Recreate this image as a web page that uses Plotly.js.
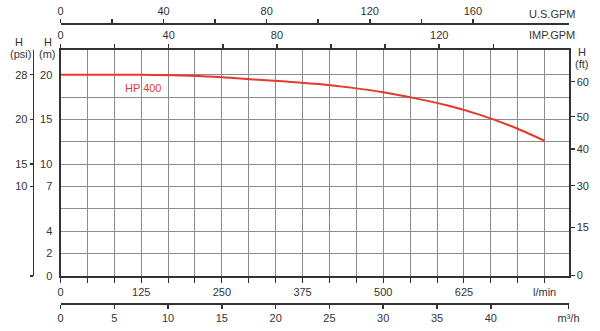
<!DOCTYPE html>
<html>
<head>
<meta charset="utf-8">
<script src="https://cdn.plot.ly/plotly-3.0.1.min.js"></script>
<style>html,body{margin:0;padding:0;background:#fff;}#chart{width:600px;height:331px;}</style>
</head>
<body>
<div id="chart"></div>
<script>
// ---- data ----
const flowLmin = [0, 100, 150, 200, 250, 300, 350, 400, 450, 500, 550, 600, 650, 700, 750];
const headM    = [20.0, 20.0, 19.97, 19.88, 19.72, 19.47, 19.23, 18.95, 18.55, 18.03, 17.35, 16.55, 15.5, 14.2, 12.6];
const seriesName = 'HP 400';

// bottom l/min axis: gridlines every 125/3 l/min, labels every 125
const lminGrid = Array.from({length: 19}, (_, i) => i * 125 / 3);
const lminText = ['0','','','125','','','250','','','375','','','500','','','625','','','l/min'];

// head (m) axis: printed labels sit on evenly spaced gridlines
const mTickVals = [-2.5, 0, 2.5, 5, 7.5, 10, 12.5, 15, 17.5, 20];
const mTickText = ['0', '2', '4', '', '7', '10', '', '15', '', '20'];

// psi axis labels (aligned with m gridlines)
const psiTickVals = [20, 15, 10, 7.5, -2.5];
const psiTickText = ['28', '20', '15', '10', ''];

// ft axis labels and their printed positions on the head scale
const ftTickVals = [-2.45, 2.94, 7.59, 11.69, 15.3, 19.21];
const ftTickText = ['0', '15', '30', '40', '50', '60'];

// m3/h axis
const m3hTickVals = [0, 5, 10, 15, 20, 25, 30, 35, 40, 47.22];
const m3hTickText = ['0', '5', '10', '15', '20', '25', '30', '35', '40', 'm³/h'];

// U.S. GPM axis
const usTickVals = [0, 20, 40, 60, 80, 100, 120, 140, 160];
const usTickText = ['0', '', '40', '', '80', '', '120', '', '160'];

// IMP. GPM axis (labels as printed)
const impTickVals = [0, 20, 40, 60, 80, 100, 120, 140, 160];
const impTickText = ['0', '', '40', '', '80', '', '', '120', ''];

// ---- layout ----
const W = 600, H = 331;
const plotL = 60.5, plotR = 568.5, plotT = 49.5, plotB = 276;
const dark = '#333333';
const gridC = '#8c8c8c';
const red = '#e6392b';
const font = {family: '"Liberation Sans", Arial, sans-serif', size: 11, color: dark};

const xDom = [plotL / W, plotR / W];
const yDom = [(H - plotB) / H, (H - plotT) / H];
const xRange = [0, 787];
const yRange = [-2.5, 22.81];

const traces = [
  {x: flowLmin, y: headM, type: 'scatter', mode: 'lines', name: seriesName,
   line: {color: red, width: 2, shape: 'spline', smoothing: 0.8}, xaxis: 'x', yaxis: 'y', hoverinfo: 'skip'},
  {x: [], y: [], type: 'scatter', mode: 'lines', xaxis: 'x', yaxis: 'y2', hoverinfo: 'skip'},
  {x: [], y: [], type: 'scatter', mode: 'lines', xaxis: 'x', yaxis: 'y3', hoverinfo: 'skip'},
  {x: [], y: [], type: 'scatter', mode: 'lines', xaxis: 'x2', yaxis: 'y', hoverinfo: 'skip'},
  {x: [], y: [], type: 'scatter', mode: 'lines', xaxis: 'x3', yaxis: 'y', hoverinfo: 'skip'},
  {x: [], y: [], type: 'scatter', mode: 'lines', xaxis: 'x4', yaxis: 'y', hoverinfo: 'skip'}
];

const layout = {
  width: W, height: H,
  margin: {l: 0, r: 0, t: 0, b: 0},
  paper_bgcolor: '#ffffff', plot_bgcolor: '#ffffff',
  showlegend: false,
  font: font,
  xaxis: {
    domain: xDom, range: xRange, anchor: 'y',
    tickmode: 'array', tickvals: lminGrid, ticktext: lminText,
    ticks: 'outside', ticklen: 5, tickwidth: 1, tickcolor: dark,
    showline: true, linecolor: dark, linewidth: 2,
    showgrid: true, gridcolor: gridC, gridwidth: 1, zeroline: false,
    tickfont: font
  },
  xaxis2: {
    overlaying: 'x', anchor: 'free', position: (H - 303.5) / H, side: 'bottom',
    domain: xDom, range: [0, 47.22],
    tickmode: 'array', tickvals: m3hTickVals, ticktext: m3hTickText,
    ticks: 'outside', ticklen: 4, tickwidth: 1.5, tickcolor: dark,
    showline: true, linecolor: dark, linewidth: 2,
    showgrid: false, zeroline: false, tickfont: font
  },
  xaxis3: {
    overlaying: 'x', anchor: 'free', position: (H - 24) / H, side: 'top',
    domain: xDom, range: [0, 197.1],
    tickmode: 'array', tickvals: usTickVals, ticktext: usTickText,
    ticks: 'outside', ticklen: 4, tickwidth: 1.5, tickcolor: dark,
    showline: true, linecolor: dark, linewidth: 2,
    showgrid: false, zeroline: false, tickfont: font
  },
  xaxis4: {
    overlaying: 'x', anchor: 'y', side: 'top',
    domain: xDom, range: [0, 187.8],
    tickmode: 'array', tickvals: impTickVals, ticktext: impTickText,
    ticks: 'outside', ticklen: 4, tickwidth: 1.5, tickcolor: dark,
    showline: true, linecolor: dark, linewidth: 2,
    showgrid: false, zeroline: false, tickfont: font
  },
  yaxis: {
    domain: yDom, range: yRange, anchor: 'x',
    tickmode: 'array', tickvals: mTickVals, ticktext: mTickText,
    ticks: 'outside', ticklen: 4, tickcolor: 'rgba(0,0,0,0)',
    showline: true, linecolor: dark, linewidth: 2,
    showgrid: true, gridcolor: gridC, gridwidth: 1, zeroline: false,
    tickfont: font
  },
  yaxis2: {
    overlaying: 'y', anchor: 'free', position: 32.7 / W, side: 'left',
    domain: yDom, range: yRange,
    tickmode: 'array', tickvals: psiTickVals, ticktext: psiTickText,
    ticks: 'outside', ticklen: 3, tickwidth: 1.5, tickcolor: dark,
    showline: true, linecolor: dark, linewidth: 1.5,
    showgrid: false, zeroline: false, tickfont: font
  },
  yaxis3: {
    overlaying: 'y', anchor: 'x', side: 'right',
    domain: yDom, range: yRange,
    tickmode: 'array', tickvals: ftTickVals, ticktext: ftTickText,
    ticks: 'outside', ticklen: 4, tickwidth: 1.5, tickcolor: dark,
    showline: true, linecolor: dark, linewidth: 2,
    showgrid: false, zeroline: false, tickfont: font
  },
  annotations: [
    {text: 'H', xref: 'paper', yref: 'paper', x: 19 / W, y: (H - 41.7) / H, showarrow: false, font: font, xanchor: 'center', yanchor: 'middle'},
    {text: '(psi)', xref: 'paper', yref: 'paper', x: 20 / W, y: (H - 53.5) / H, showarrow: false, font: font, xanchor: 'center', yanchor: 'middle'},
    {text: 'H', xref: 'paper', yref: 'paper', x: 47.7 / W, y: (H - 41.7) / H, showarrow: false, font: font, xanchor: 'center', yanchor: 'middle'},
    {text: '(m)', xref: 'paper', yref: 'paper', x: 47.5 / W, y: (H - 53.5) / H, showarrow: false, font: font, xanchor: 'center', yanchor: 'middle'},
    {text: 'H', xref: 'paper', yref: 'paper', x: 581.7 / W, y: (H - 51.7) / H, showarrow: false, font: font, xanchor: 'center', yanchor: 'middle'},
    {text: '(ft)', xref: 'paper', yref: 'paper', x: 581.7 / W, y: (H - 64) / H, showarrow: false, font: font, xanchor: 'center', yanchor: 'middle'},
    {text: 'U.S.GPM', xref: 'paper', yref: 'paper', x: 551.7 / W, y: (H - 14) / H, showarrow: false, font: font, xanchor: 'center', yanchor: 'middle'},
    {text: 'IMP.GPM', xref: 'paper', yref: 'paper', x: 551.7 / W, y: (H - 35) / H, showarrow: false, font: font, xanchor: 'center', yanchor: 'middle'},
    {text: seriesName, xref: 'x', yref: 'y', x: 128.3, y: 18.55, showarrow: false,
     font: {family: font.family, size: 11, color: red}, xanchor: 'center', yanchor: 'middle'}
  ]
};

Plotly.newPlot('chart', traces, layout, {staticPlot: true, displayModeBar: false});
</script>
</body>
</html>
